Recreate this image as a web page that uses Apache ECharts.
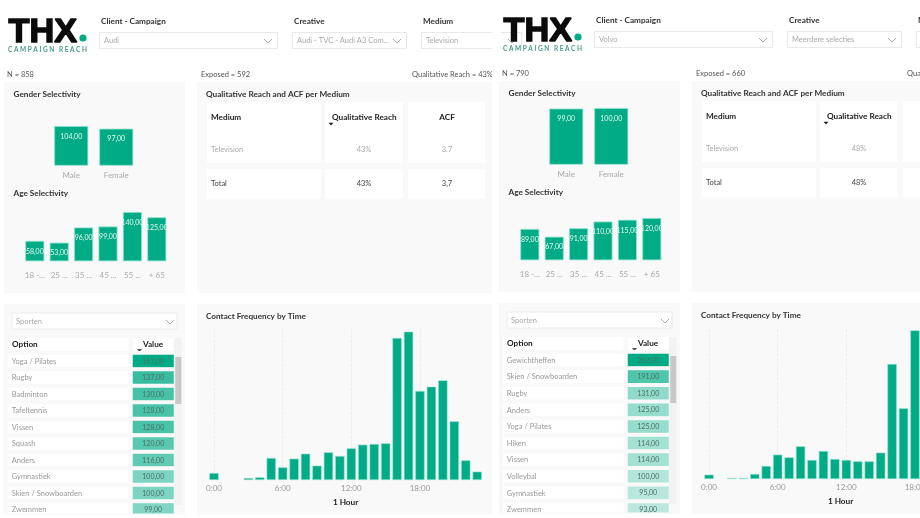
<!DOCTYPE html>
<html>
<head>
<meta charset="utf-8">
<script src="https://cdn.jsdelivr.net/npm/echarts@6/dist/echarts.min.js"></script>
<style>
html, body { margin: 0; padding: 0; background: #fff; width: 920px; height: 518px; overflow: hidden; }
/* wider than the window: the right report runs off the edge of the picture */
#main { width: 1020px; height: 518px; }
</style>
</head>
<body>
<div id="main"></div>
<script>
var genderCats = ['Male', 'Female'];
var ageCats = ['18 -...', '25 ...', '35 ...', '45 ...', '55 ...', '+ 65'];
var hourCats = [];
for (var h = 0; h < 24; h++) { hourCats.push(h + ':00'); }

// left report: Audi
var audiGender = [104, 97];
var audiAge = [58, 53, 96, 99, 140, 125];
var audiOptions = ['Yoga / Pilates', 'Rugby', 'Badminton', 'Tafeltennis', 'Vissen', 'Squash', 'Anders', 'Gymnastiek', 'Skien / Snowboarden', 'Zwemmen'];
var audiValues = [167, 137, 130, 128, 128, 120, 116, 100, 100, 99];
var audiHours = [21, null, null, 6, 8, 66, 38, 64, 79, 43, 83, 72, 95, 106, 108, 110, 426, 445, 267, 280, 299, 176, 59, 25];
var audiMedium = ['Television', '43%', '3.7'];
var audiTotal = ['Total', '43%', '3,7'];

// right report: Volvo (hours after 18:00 fall outside the picture)
var volvoGender = [99, 100];
var volvoAge = [89, 67, 91, 110, 115, 120];
var volvoOptions = ['Gewichtheffen', 'Skien / Snowboarden', 'Rugby', 'Anders', 'Yoga / Pilates', 'Hiken', 'Vissen', 'Volleybal', 'Gymnastiek', 'Zwemmen'];
var volvoValues = [262, 191, 131, 125, 125, 114, 114, 100, 95, 93];
var volvoHours = [13, null, 3, 3, 15, 39, 73, 65, 98, 57, 84, 60, 57, 53, 53, 79, 345, 212, 446];
var volvoMedium = ['Television', '48%', '3.7'];
var volvoTotal = ['Total', '48%', '3,7'];

var GREEN = '#01ab85';
var EDGE = '#8fe3ce';
var PANEL = '#f9f9f9';
var FONT = 'Lato, "Open Sans", sans-serif';
var BOLD_SIZE = 8.2;
var TEXT_SIZE = 7.5;

var grids = [], xAxes = [], yAxes = [], series = [], visualMaps = [], elements = [];

function txt(x, y, str, size, color, bold, align) {
	elements.push({
		type: 'text', x: x, y: y, z: 1,
		style: { text: str, fontSize: size, fill: color, fontFamily: FONT, fontWeight: bold ? 700 : 400, textAlign: align || 'left', textVerticalAlign: 'middle' }
	});
}
function box(x, y, w, h, fill, stroke, z) {
	elements.push({
		type: 'rect', x: x, y: y, z: z || 0,
		shape: { x: 0, y: 0, width: w, height: h },
		style: { fill: fill, stroke: stroke || null, lineWidth: stroke ? 1 : 0 }
	});
}
function chevron(x, y, w, h, color, up) {
	var a = up ? y + h : y, b = up ? y : y + h;
	elements.push({
		type: 'polyline', z: 1,
		shape: { points: [[x, a], [x + w / 2, b], [x + w, a]] },
		style: { fill: null, stroke: color, lineWidth: 0.8 }
	});
}
function sortMark(x, y) {
	elements.push({
		type: 'polygon', z: 1,
		shape: { points: [[x - 2.5, y - 1.2], [x + 2.5, y - 1.2], [x, y + 1.5]] },
		style: { fill: '#222' }
	});
}
function slicer(x, y, w, label, value) {
	txt(x + 2, y - 10.5, label, BOLD_SIZE, '#333', true);
	box(x + 0.5, y + 0.5, w, 16, '#fff', '#e9e9e9');
	txt(x + 5, y + 9, value, TEXT_SIZE, '#aaa');
	chevron(x + w - 13, y + 7, 8, 4, '#999');
}

function barChart(left, top, width, height, cats, vals, max, barWidth, margin) {
	var idx = grids.length;
	grids.push({ left: left, top: top, width: width, height: height });
	xAxes.push({
		gridIndex: idx, type: 'category', data: cats,
		axisLine: { show: false }, axisTick: { show: false },
		axisLabel: { interval: 0, color: '#aaa', fontSize: 8, fontFamily: FONT, margin: margin }
	});
	yAxes.push({ gridIndex: idx, type: 'value', min: 0, max: max, show: false });
	series.push({
		type: 'bar', xAxisIndex: idx, yAxisIndex: idx, data: vals, barWidth: barWidth, silent: true,
		itemStyle: { color: GREEN, borderColor: EDGE, borderWidth: 0.8 },
		label: {
			show: true, position: 'insideTop', distance: 7, color: '#e6f8f2', fontSize: 7, fontFamily: FONT,
			formatter: function (p) { return p.value.toFixed(2).replace('.', ','); }
		}
	});
}

function tableColumn(left, top, width, height, rows, vals, labelOf, pos, dist, textColor, colorScale) {
	var idx = grids.length;
	var data = [];
	for (var i = 0; i < rows.length; i++) { data.push([0, i, vals[i]]); }
	grids.push({ left: left, top: top, width: width, height: height });
	xAxes.push({ gridIndex: idx, type: 'category', data: ['col'], show: false });
	yAxes.push({ gridIndex: idx, type: 'category', data: rows, inverse: true, show: false });
	visualMaps.push({
		show: false, seriesIndex: series.length, dimension: 2, min: colorScale[0], max: colorScale[1],
		inRange: { color: colorScale[2] }
	});
	series.push({
		type: 'heatmap', xAxisIndex: idx, yAxisIndex: idx, data: data, silent: true,
		itemStyle: { borderColor: PANEL, borderWidth: 4 },
		label: {
			show: true, position: pos, distance: dist, color: textColor, fontSize: colorScale[3], fontFamily: FONT,
			formatter: function (p) { return labelOf(p.data); }
		}
	});
}

function addReport(dx, dy, d) {
	// logo
	elements.push({
		type: 'text', x: dx + 8.5, y: dy + 32.5, scaleX: 1.04, z: 1,
		style: { text: 'THX', fontSize: 33, fill: '#0a0a0a', fontFamily: '"Liberation Sans", sans-serif', fontWeight: 'bold', textVerticalAlign: 'middle', stroke: '#0a0a0a', lineWidth: 1.4 }
	});
	elements.push({ type: 'circle', z: 1, shape: { cx: dx + 83, cy: dy + 38, r: 3.6 }, style: { fill: GREEN } });
	txt(dx + 8, dy + 49.5, 'C A M P A I G N   R E A C H', 6.5, '#4a9c8b', true);

	slicer(dx + 99, dy + 32, 178, 'Client - Campaign', d.client);
	slicer(dx + 292, dy + 32, 114, 'Creative', d.creative);
	slicer(dx + 421, dy + 32, 100, 'Medium', 'Television');

	txt(dx + 7, dy + 75, 'N = ' + d.n, TEXT_SIZE, '#555');
	txt(dx + 201, dy + 75, 'Exposed = ' + d.exposed, TEXT_SIZE, '#555');
	txt(dx + 412, dy + 75, 'Qualitative Reach = ' + d.reach, TEXT_SIZE, '#555');
	// left report is cut off where the right one starts
	if (dx === 0) { box(492, 0, 9, 82, '#fff', null, 2); }

	// panels
	box(dx + 4, dy + 82, 181, 211, PANEL);
	box(dx + 197, dy + 82, 295, 211, PANEL);
	box(dx + 4, dy + 304, 181, 211, PANEL);
	box(dx + 197, dy + 304, 295, 211, PANEL);

	txt(dx + 13.5, dy + 94, 'Gender Selectivity', BOLD_SIZE, '#333', true);
	txt(dx + 13.5, dy + 193, 'Age Selectivity', BOLD_SIZE, '#333', true);
	txt(dx + 206, dy + 94.5, 'Qualitative Reach and ACF per Medium', BOLD_SIZE, '#333', true);
	txt(dx + 206, dy + 316.5, 'Contact Frequency by Time', BOLD_SIZE, '#333', true);

	barChart(dx + 48.75, dy + d.genderTop, 90, 165.7 - d.genderTop, genderCats, d.gender, d.genderMax, 34, 5.5);
	barChart(dx + 22.6, dy + d.ageTop, 146.4, 261.3 - d.ageTop, ageCats, d.age, d.ageMax, 19, 10.5);

	// summary table
	box(dx + 207, dy + 102, 114, 61, '#fff');
	box(dx + 325, dy + 102, 78, 61, '#fff');
	box(dx + 408, dy + 102, 77, 61, '#fff');
	box(dx + 207, dy + 169, 114, 29.5, '#fff');
	box(dx + 325, dy + 169, 78, 29.5, '#fff');
	box(dx + 408, dy + 169, 77, 29.5, '#fff');
	txt(dx + 211, dy + 117, 'Medium', BOLD_SIZE, '#222', true);
	txt(dx + 332, dy + 117, 'Qualitative Reach', BOLD_SIZE, '#222', true);
	txt(dx + 447, dy + 117, 'ACF', BOLD_SIZE, '#222', true, 'center');
	sortMark(dx + 331, dy + 124);
	txt(dx + 211, dy + 150, d.medium[0], TEXT_SIZE, '#aaa');
	txt(dx + 364, dy + 150, d.medium[1], TEXT_SIZE, '#aaa', false, 'center');
	txt(dx + 447, dy + 150, d.medium[2], TEXT_SIZE, '#aaa', false, 'center');
	txt(dx + 211, dy + 184, d.total[0], TEXT_SIZE, '#444');
	txt(dx + 364, dy + 184, d.total[1], TEXT_SIZE, '#444', false, 'center');
	txt(dx + 447, dy + 184, d.total[2], TEXT_SIZE, '#444', false, 'center');

	// option table
	box(dx + 12, dy + 313, 165, 16, '#fff', '#ececec');
	txt(dx + 16, dy + 322, 'Sporten', TEXT_SIZE, '#aaa');
	chevron(dx + 166, dy + 320, 8, 4, '#999');
	box(dx + 8, dy + 338, 120.5, 16, '#fff');
	box(dx + 133, dy + 338, 40.5, 16, '#fff');
	txt(dx + 12, dy + 344.5, 'Option', BOLD_SIZE, '#222', true);
	txt(dx + 153, dy + 344.5, 'Value', BOLD_SIZE, '#222', true, 'center');
	sortMark(dx + 139.5, dy + 350.5);

	var rowH = 16.67;
	var top = dy + 353;
	tableColumn(dx + 6, top, 124.5, rowH * 10, d.options, d.values, function (row) { return d.options[row[1]]; },
		'insideLeft', 8, '#999', [0, 1000, ['#fff', '#fff'], 7.5]);
	tableColumn(dx + 131, top, 44.5, rowH * 10, d.options, d.values, function (row) { return row[2].toFixed(2).replace('.', ','); },
		'inside', 0, '#4f6f66', [30, d.values[0], ['#ffffff', GREEN], 7]);
	box(dx + 4, dy + 513.5, 181, 1.5, PANEL, null, 20);
	box(dx + 4, dy + 515, 181, 6, '#fff', null, 20);

	// scrollbar
	box(dx + 174, dy + 338, 7.5, 167, '#f2f2f2', null, 3);
	box(dx + 175.3, dy + 357, 6, 47, '#c8c8c8', null, 3);
	chevron(dx + 176, dy + 346, 4, 2.5, '#555', true);
	chevron(dx + 176, dy + 494, 4, 2.5, '#555');

	// hours chart
	var idx = grids.length;
	grids.push({ left: dx + 208.3, top: dy + 330, width: 274.6, height: 150 });
	xAxes.push({
		gridIndex: idx, type: 'category', data: hourCats,
		name: '1 Hour', nameLocation: 'middle', nameGap: 18,
		nameTextStyle: { color: '#222', fontSize: BOLD_SIZE, fontWeight: 700, fontFamily: FONT },
		axisLine: { show: false }, axisTick: { show: false },
		axisLabel: { interval: 5, color: '#999', fontSize: 8, fontFamily: FONT, margin: 4 },
		splitLine: { show: true, interval: 5, alignWithLabel: true, lineStyle: { color: '#ebebeb', type: 'dashed', width: 0.8 } }
	});
	yAxes.push({ gridIndex: idx, type: 'value', min: 0, max: 450, show: false });
	series.push({
		type: 'bar', xAxisIndex: idx, yAxisIndex: idx, data: d.hours, barWidth: 9.3, silent: true,
		itemStyle: { color: GREEN, borderColor: EDGE, borderWidth: 0.6 }
	});
}

addReport(0, 0, {
	client: 'Audi', creative: 'Audi - TVC - Audi A3 Com...', n: 858, exposed: 592, reach: '43%',
	gender: audiGender, genderMax: 104, genderTop: 126,
	age: audiAge, ageMax: 140, ageTop: 212,
	options: audiOptions, values: audiValues, hours: audiHours, medium: audiMedium, total: audiTotal
});
addReport(495, -1, {
	client: 'Volvo', creative: 'Meerdere selecties', n: 790, exposed: 660, reach: '48%',
	gender: volvoGender, genderMax: 100, genderTop: 109,
	age: volvoAge, ageMax: 120, ageTop: 219,
	options: volvoOptions, values: volvoValues, hours: volvoHours, medium: volvoMedium, total: volvoTotal
});

var chart = echarts.init(document.getElementById('main'));
chart.setOption({
	animation: false,
	textStyle: { fontFamily: FONT },
	graphic: { elements: elements },
	grid: grids,
	xAxis: xAxes,
	yAxis: yAxes,
	visualMap: visualMaps,
	series: series
});
</script>
</body>
</html>
